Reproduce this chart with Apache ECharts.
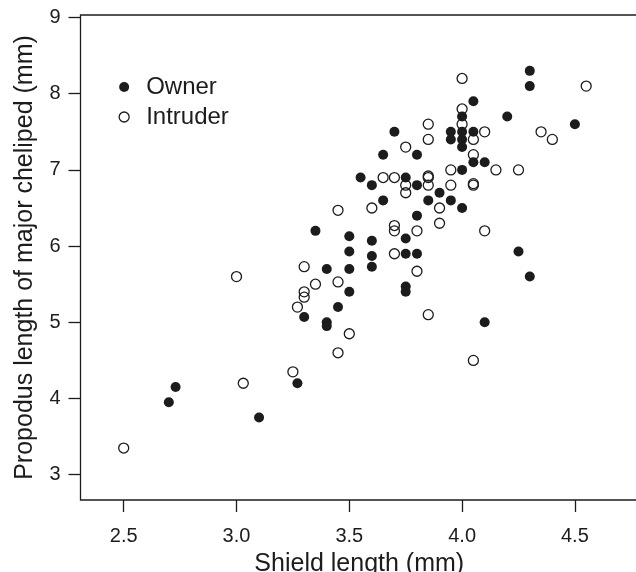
<!DOCTYPE html>
<html>
<head>
<meta charset="utf-8">
<script src="https://cdn.jsdelivr.net/npm/echarts@6/dist/echarts.min.js"></script>
<style>
html,body{margin:0;padding:0;background:#fff;}
#chart{width:636px;height:572px;}
</style>
</head>
<body>
<div id="chart"></div>
<script>
const ownerX = [2.70,2.73,3.10,3.27,3.30,3.35,3.40,3.40,3.40,3.45,3.50,3.50,3.50,3.50,3.55,3.60,3.60,3.60,3.60,3.65,3.65,3.70,3.75,3.75,3.75,3.75,3.75,3.80,3.80,3.80,3.80,3.85,3.90,3.95,3.95,3.95,4.00,4.00,4.00,4.00,4.00,4.00,4.05,4.05,4.05,4.10,4.10,4.20,4.25,4.30,4.30,4.30,4.50];
const ownerY = [3.95,4.15,3.75,4.20,5.07,6.20,5.70,5.00,4.95,5.20,6.13,5.93,5.70,5.40,6.90,6.80,6.07,5.87,5.73,7.20,6.60,7.50,6.90,6.10,5.90,5.47,5.40,7.20,6.80,6.40,5.90,6.60,6.70,7.50,7.40,6.60,7.70,7.50,7.40,7.30,7.00,6.50,7.90,7.50,7.10,7.10,5.00,7.70,5.93,8.30,8.10,5.60,7.60];
const intruderX = [2.50,3.00,3.03,3.25,3.27,3.30,3.30,3.30,3.35,3.45,3.45,3.45,3.50,3.60,3.65,3.70,3.70,3.70,3.70,3.75,3.75,3.75,3.80,3.80,3.85,3.85,3.85,3.85,3.85,3.85,3.90,3.90,3.95,3.95,4.00,4.00,4.00,4.05,4.05,4.05,4.05,4.05,4.10,4.10,4.15,4.25,4.35,4.40,4.55];
const intruderY = [3.35,5.60,4.20,4.35,5.20,5.73,5.40,5.33,5.50,6.47,5.53,4.60,4.85,6.50,6.90,6.90,6.27,6.20,5.90,7.30,6.80,6.70,6.20,5.67,7.60,7.40,6.90,6.92,6.80,5.10,6.50,6.30,7.00,6.80,8.20,7.80,7.60,7.40,7.20,6.80,6.82,4.50,7.50,6.20,7.00,7.00,7.50,7.40,8.10];
const xTicks = [2.5,3.0,3.5,4.0,4.5];
const yTicks = [3,4,5,6,7,8,9];
const seriesNames = ['Owner','Intruder'];
const xTitle = 'Shield length (mm)';
const yTitle = 'Propodus length of major cheliped (mm)';

const zip = (xs, ys) => xs.map((x, i) => [x, ys[i]]);
const FONT = '"Liberation Sans", Arial, Helvetica, sans-serif';
const INK = '#1c1c1c';

const chart = echarts.init(document.getElementById('chart'), null, {renderer: 'canvas'});
chart.setOption({
  animation: false,
  backgroundColor: '#fff',
  grid: {
    left: 80.5, top: 15, right: -2, bottom: 72,
    outerBoundsMode: 'none', containLabel: false,
    show: true, borderColor: INK, borderWidth: 1.3, backgroundColor: 'transparent'
  },
  legend: {
    orient: 'vertical', left: 118.5, top: 75, itemGap: 6,
    itemWidth: 10, itemHeight: 10, padding: 0,
    textStyle: {fontFamily: FONT, fontSize: 24, color: INK, padding: [0, 0, 0, 12]},
    data: [
      {name: seriesNames[0], icon: 'circle', itemStyle: {color: INK, borderWidth: 0}},
      {name: seriesNames[1], icon: 'circle', itemStyle: {color: 'rgba(0,0,0,0)', borderColor: INK, borderWidth: 1.3}}
    ]
  },
  xAxis: {
    type: 'value', min: 2.3085, max: 4.7797,
    name: xTitle, nameLocation: 'middle', nameGap: 52,
    nameTextStyle: {fontFamily: FONT, fontSize: 25, color: INK},
    splitLine: {show: false},
    axisLine: {show: false},
    axisTick: {show: true, inside: false, length: 12, customValues: xTicks, lineStyle: {color: INK, width: 1.3}},
    axisLabel: {customValues: xTicks, margin: 26, fontFamily: FONT, fontSize: 20, color: INK,
      formatter: v => v.toFixed(1)}
  },
  yAxis: {
    type: 'value', min: 2.668, max: 9.033,
    name: yTitle, nameLocation: 'middle', nameGap: 43, nameRotate: 90,
    nameTextStyle: {fontFamily: FONT, fontSize: 25, color: INK},
    splitLine: {show: false},
    axisLine: {show: false},
    axisTick: {show: true, inside: false, length: 12, customValues: yTicks, lineStyle: {color: INK, width: 1.3}},
    axisLabel: {customValues: yTicks, margin: 20, fontFamily: FONT, fontSize: 20, color: INK,
      formatter: v => String(Math.round(v))}
  },
  series: [
    {
      name: seriesNames[0], type: 'scatter', symbol: 'circle', symbolSize: 10,
      itemStyle: {color: INK, opacity: 1},
      data: zip(ownerX, ownerY)
    },
    {
      name: seriesNames[1], type: 'scatter', symbol: 'circle', symbolSize: 10,
      itemStyle: {color: 'rgba(0,0,0,0)', borderColor: INK, borderWidth: 1.3, opacity: 1},
      data: zip(intruderX, intruderY)
    }
  ]
});
</script>
</body>
</html>
